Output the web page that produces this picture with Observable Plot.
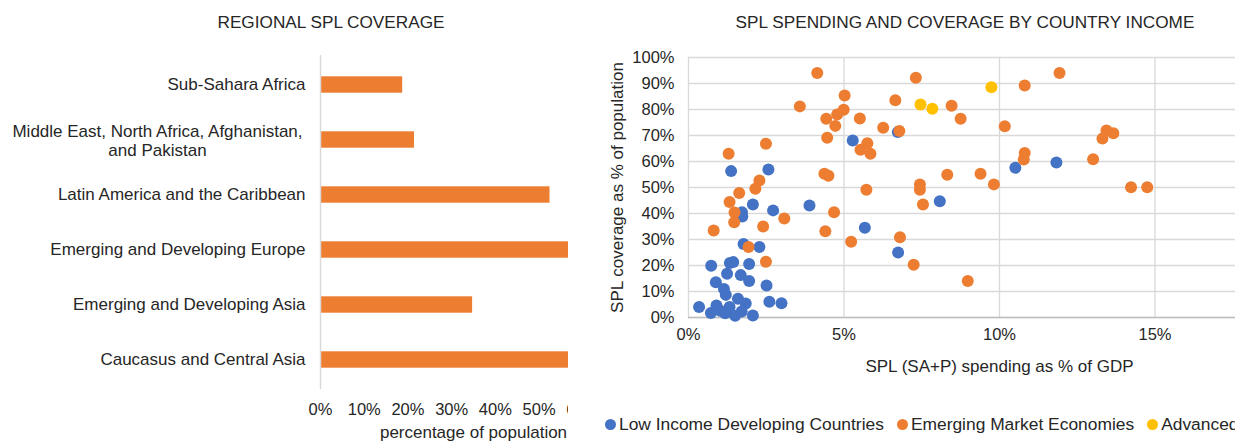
<!DOCTYPE html>
<html>
<head>
<meta charset="utf-8">
<script src="https://cdn.jsdelivr.net/npm/d3@7"></script>
<script src="https://cdn.jsdelivr.net/npm/@observablehq/plot@0.6"></script>
<style>
  html, body { margin: 0; padding: 0; background: #fff; }
  #fig { position: relative; width: 1235px; height: 443px; overflow: hidden;
         font-family: "Liberation Sans", Arial, sans-serif; color: #262626; background: #fff; }
  #left { position: absolute; left: 0; top: 0; width: 568px; height: 443px; overflow: hidden; }
  #right { position: absolute; left: 600px; top: 0; width: 635px; height: 443px; overflow: hidden; }
  .title { position: absolute; top: 12px; font-size: 17.2px; white-space: nowrap; transform: translateX(-50%); }
  #legend { position: absolute; left: 5px; top: 414px; display: flex; align-items: center; white-space: nowrap; font-size: 17.4px; color: #262626; }
  .item { display: flex; align-items: center; margin-right: 13px; }
  .sw { width: 11px; height: 11px; border-radius: 50%; margin-right: 3px; }
  #fig svg { position: absolute; top: 0; left: 0; max-width: none !important; }
</style>
</head>
<body>
<div id="fig">
  <div id="left"><div class="title" style="left:331px">REGIONAL SPL COVERAGE</div></div>
  <div id="right"><div class="title" style="left:365px">SPL SPENDING AND COVERAGE BY COUNTRY INCOME</div>
    <div id="legend"></div>
  </div>
</div>
<script>
// ---- Left chart data ----
const regions = [
  "Sub-Sahara Africa",
  "Middle East, North Africa, Afghanistan,\nand Pakistan",
  "Latin America and the Caribbean",
  "Emerging and Developing Europe",
  "Emerging and Developing Asia",
  "Caucasus and Central Asia"
];
const regionCoverage = [0.188, 0.215, 0.525, 0.66, 0.348, 0.64];
const leftTicks = [0, 0.1, 0.2, 0.3, 0.4, 0.5, 0.6];

// ---- Right chart data (x: SPL spending % of GDP, y: coverage % of population) ----
const seriesNames = ["Low Income Developing Countries", "Emerging Market Economies", "Advanced Economies"];
const seriesColors = ["#4472C4", "#ED7D31", "#FFC000"];
const lowX = [1.37,2.57,5.28,6.73,2.07,3.89,2.72,1.72,1.73,5.67,1.77,2.28,6.74,0.73,1.33,1.44,1.95,1.24,1.68,0.88,1.95,1.14,1.20,2.51,1.59,2.60,2.99,0.34,0.90,1.32,1.84,0.72,1.02,1.18,1.50,1.71,2.07,10.51,11.83,8.08];
const lowY = [56.3,56.9,68.1,71.3,43.5,43.1,41.2,40.5,38.8,34.5,28.3,27.1,25.0,19.9,21.0,21.3,20.6,16.8,16.3,13.6,14.0,11.0,8.7,12.3,7.2,6.1,5.5,4.0,4.6,4.0,5.4,1.7,2.6,1.6,0.7,2.3,0.8,57.6,59.6,44.7];
const emX = [4.14,7.31,3.58,5.02,4.99,4.78,4.43,4.72,4.46,5.51,6.26,6.65,6.78,5.75,5.53,5.85,2.49,1.29,4.37,4.50,2.28,2.15,5.72,1.63,1.32,1.48,1.47,4.68,3.08,2.40,0.81,4.40,5.23,6.80,1.93,2.49,7.24,11.93,10.81,8.46,8.75,10.17,13.44,13.66,13.31,10.81,10.78,13.01,8.32,9.39,9.82,7.44,7.44,7.54,14.23,14.75,8.98];
const emY = [94.0,92.2,81.2,85.4,79.9,78.1,76.4,73.7,69.1,76.5,73.0,83.6,71.7,67.0,64.5,63.0,66.8,63.0,55.3,54.5,52.7,49.5,49.1,47.9,44.4,40.4,36.6,40.5,38.1,35.0,33.5,33.2,29.1,30.9,27.1,21.4,20.3,94.0,89.2,81.4,76.4,73.6,71.9,70.9,68.8,63.3,60.8,60.9,54.9,55.3,51.2,51.2,49.1,43.5,50.1,50.1,14.0];
const advX = [9.74,7.46,7.84];
const advY = [88.6,81.9,80.3];
const xTicks = [0, 0.05, 0.10, 0.15, 0.20];
const yTicks = [0,0.1,0.2,0.3,0.4,0.5,0.6,0.7,0.8,0.9,1.0];

const pct = d3.format(".0%");
const textColor = "#262626";

// ---- Left chart ----
const barData = regions.map((r, i) => ({region: r, value: regionCoverage[i]}));
const left = Plot.plot({
  width: 640, height: 443,
  marginLeft: 320, marginRight: 14, marginTop: 55, marginBottom: 54,
  style: {fontFamily: '"Liberation Sans", Arial, sans-serif', fontSize: "17px", color: textColor, background: "transparent", maxWidth: "none"},
  x: {domain: [0, 0.7]},
  y: {domain: regions, padding: 0},
  marks: [
    Plot.barX(barData, {x: "value", y: "region", fill: "#ED7D31", insetTop: 19.3, insetBottom: 19.3}),
    Plot.ruleX([0], {stroke: "#d9d9d9", strokeWidth: 1.5}),
    Plot.axisX(leftTicks, {tickFormat: pct, tickSize: 0, tickPadding: 14, fontSize: 16.5, label: null}),
    Plot.axisY({ticks: [], label: null}),
    Plot.text(barData.filter(d => !d.region.includes("\n")), {x: 0, y: "region", text: "region", textAnchor: "end", dx: -15, fontSize: 17, fill: textColor}),
    Plot.text(barData.filter(d => d.region.includes("\n")), {x: 0, y: "region", text: "region", textAnchor: "middle", dx: -163, lineHeight: 1.12, fontSize: 17, fill: textColor}),
    Plot.text(["percentage of population"], {frameAnchor: "bottom", textAnchor: "middle", lineAnchor: "middle", dy: 43, fontSize: 17, fill: textColor})
  ]
});
document.getElementById("left").appendChild(left);

// ---- Right chart ----
const mk = (xs, ys) => xs.map((x, i) => ({x: x / 100, y: ys[i] / 100}));
const low = mk(lowX, lowY), em = mk(emX, emY), adv = mk(advX, advY);
const right = Plot.plot({
  width: 730, height: 400,
  marginLeft: 88, marginRight: 20, marginTop: 57, marginBottom: 83,
  style: {fontFamily: '"Liberation Sans", Arial, sans-serif', fontSize: "17px", color: textColor, background: "transparent", maxWidth: "none"},
  x: {domain: [0, 0.2]},
  y: {domain: [0, 1]},
  marks: [
    Plot.gridY(yTicks, {stroke: "#d9d9d9", strokeOpacity: 1, strokeWidth: 1.3}),
    Plot.gridX(xTicks, {stroke: "#d9d9d9", strokeOpacity: 1, strokeWidth: 1.3}),
    Plot.ruleY([0], {stroke: "#bfbfbf", strokeWidth: 1.5}),
    Plot.dot(low, {x: "x", y: "y", r: 6, fill: seriesColors[0]}),
    Plot.dot(em, {x: "x", y: "y", r: 6, fill: seriesColors[1]}),
    Plot.dot(adv, {x: "x", y: "y", r: 6, fill: seriesColors[2]}),
    Plot.axisX(xTicks.slice(0, 4), {tickFormat: pct, tickSize: 0, tickPadding: 11, fontSize: 16.5, label: null}),
    Plot.axisY(yTicks, {tickFormat: pct, tickSize: 0, tickPadding: 14, fontSize: 16.5, label: null}),
    Plot.text(["SPL (SA+P) spending as % of GDP"], {frameAnchor: "bottom", textAnchor: "middle", lineAnchor: "middle", dy: 49, fontSize: 17, fill: textColor}),
    Plot.text(["SPL coverage as % of population"], {frameAnchor: "left", textAnchor: "middle", lineAnchor: "middle", rotate: -90, dx: -71, fontSize: 17, fill: textColor})
  ]
});
document.getElementById("right").appendChild(right);

// ---- Legend ----
const legend = document.getElementById("legend");
seriesNames.forEach((name, i) => {
  const it = document.createElement("div"); it.className = "item";
  const sw = document.createElement("span"); sw.className = "sw"; sw.style.background = seriesColors[i];
  const tx = document.createElement("span"); tx.textContent = name;
  it.appendChild(sw); it.appendChild(tx); legend.appendChild(it);
});
</script>
</body>
</html>
